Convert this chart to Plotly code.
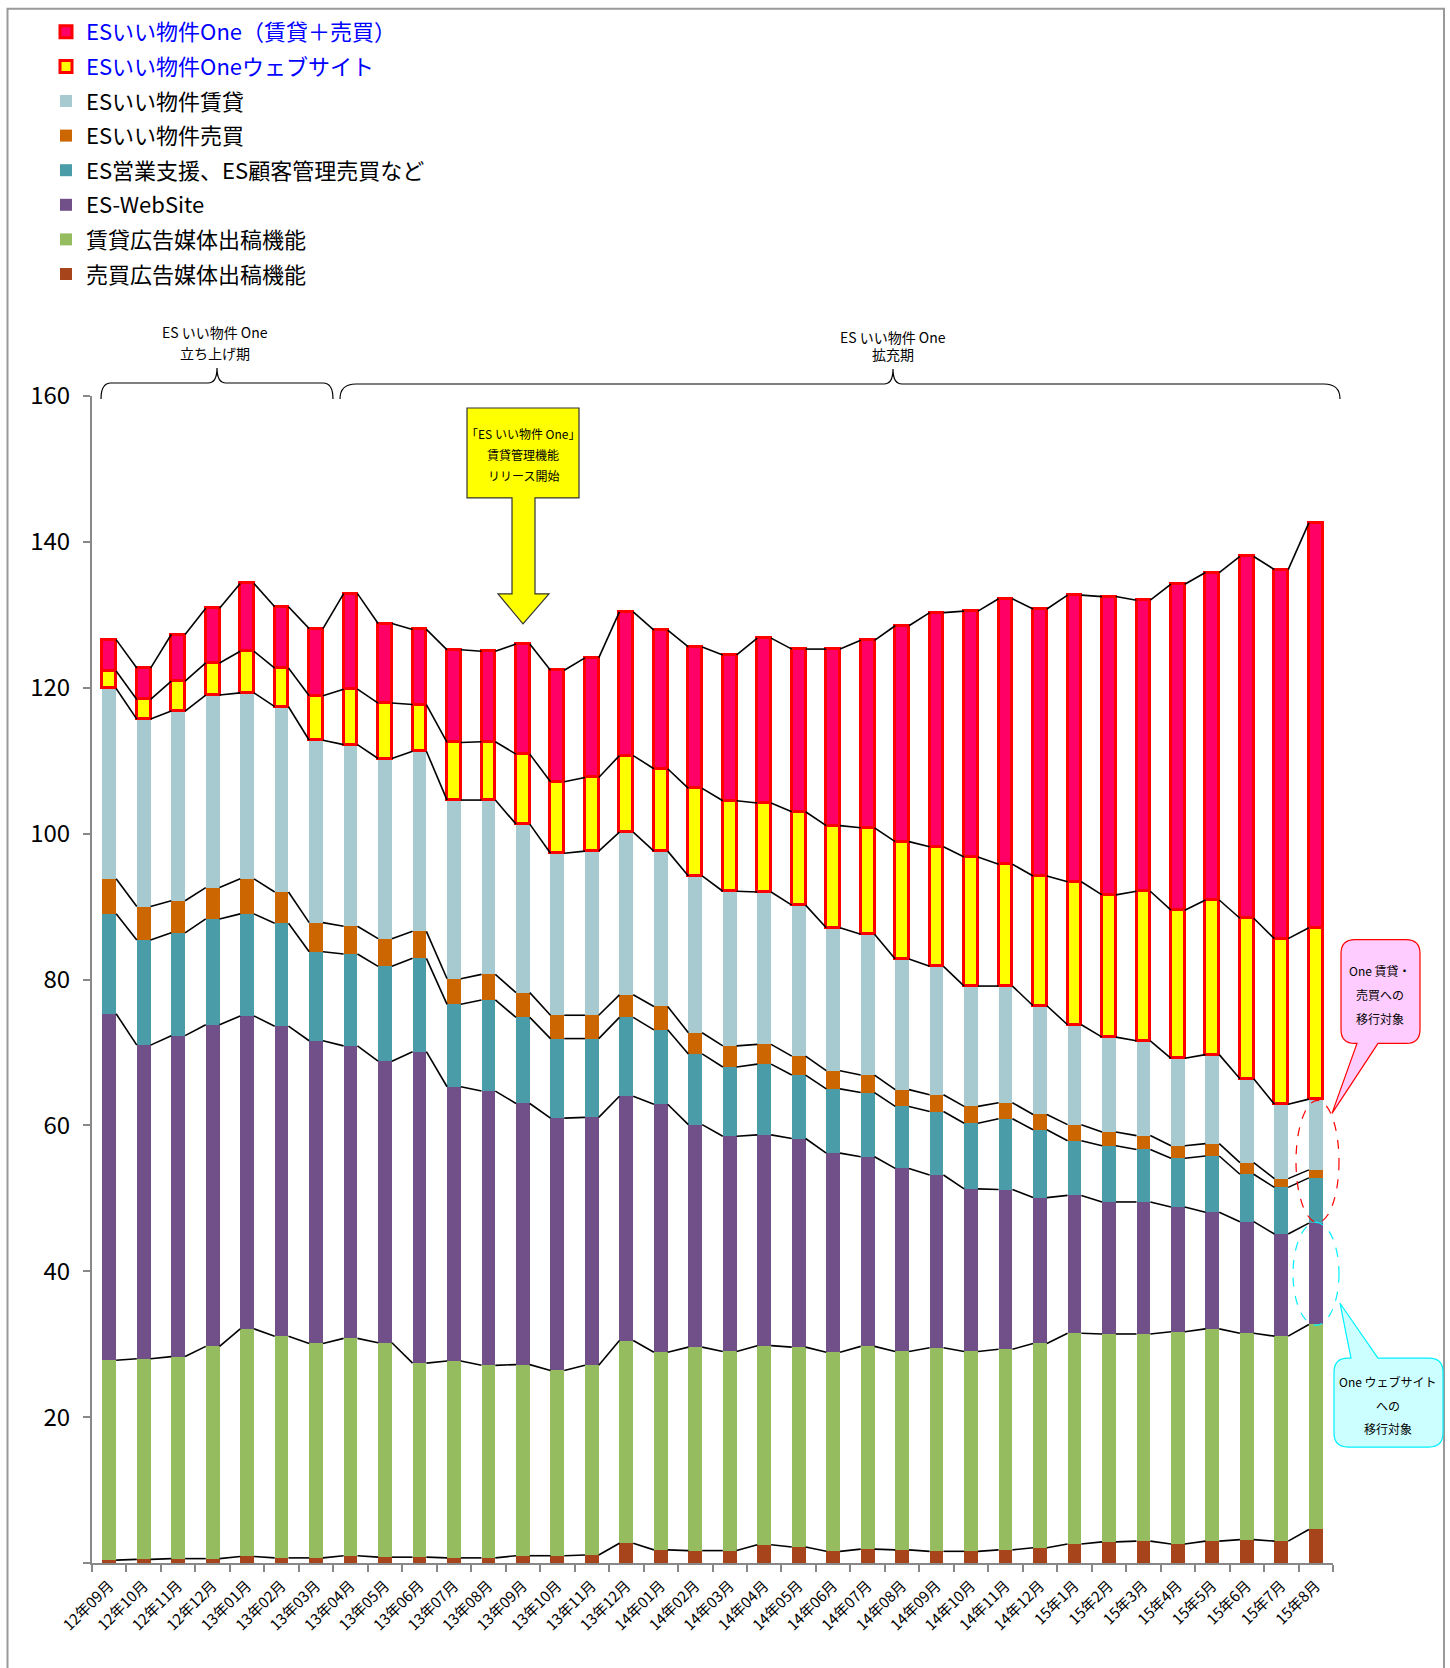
import plotly.graph_objects as go

months = ["12年09月","12年10月","12年11月","12年12月","13年01月","13年02月","13年03月","13年04月",
          "13年05月","13年06月","13年07月","13年08月","13年09月","13年10月","13年11月","13年12月",
          "14年01月","14年02月","14年03月","14年04月","14年05月","14年06月","14年07月","14年08月",
          "14年09月","14年10月","14年11月","14年12月","15年1月","15年2月","15年3月","15年4月",
          "15年5月","15年6月","15年7月","15年8月"]

baibai_ad = [0.4,0.5,0.6,0.6,0.9,0.7,0.7,1.0,0.8,0.8,0.7,0.7,1.0,1.0,1.1,2.7,1.8,1.7,1.7,2.5,
             2.2,1.6,1.9,1.8,1.6,1.6,1.8,2.1,2.6,2.9,3.0,2.6,3.0,3.2,3.0,4.6]
chintai_ad = [27.4,27.5,27.7,29.1,31.2,30.4,29.4,29.8,29.4,26.6,27.0,26.4,26.2,25.4,26.0,27.8,
              27.1,27.9,27.3,27.3,27.4,27.3,27.8,27.2,27.9,27.4,27.5,28.0,28.9,28.5,28.4,29.1,
              29.1,28.3,28.1,28.1]
es_website = [47.5,43.0,44.0,44.1,42.9,42.5,41.5,40.1,38.6,42.7,37.6,37.6,35.8,34.6,34.0,33.5,
              34.0,30.5,29.5,28.9,28.6,27.3,26.0,25.1,23.7,22.3,21.9,20.0,18.9,18.1,18.1,17.1,
              16.0,15.3,14.0,13.9]
es_eigyo = [13.7,14.4,14.1,14.5,14.0,14.1,12.2,12.6,13.0,12.8,11.3,12.5,11.8,10.9,10.8,10.8,
            10.2,9.7,9.5,9.7,8.7,8.8,8.8,8.5,8.7,9.0,9.7,9.3,7.5,7.7,7.2,6.7,7.7,6.5,6.4,6.2]
es_baibai = [4.8,4.6,4.4,4.3,4.8,4.3,4.0,3.8,3.8,3.7,3.5,3.5,3.4,3.2,3.2,3.1,3.2,2.9,2.9,2.7,
             2.6,2.5,2.4,2.3,2.3,2.3,2.2,2.1,2.2,1.9,1.9,1.7,1.7,1.6,1.2,1.1]
es_chintai = [26.1,25.7,26.0,26.4,25.5,25.4,25.0,24.9,24.7,24.7,24.5,23.9,23.1,22.2,22.5,22.3,
              21.3,21.5,21.2,20.9,20.7,19.6,19.3,17.9,17.6,16.5,16.0,14.9,13.7,13.0,13.0,12.0,
              12.2,11.5,10.2,9.7]
one_web = [2.4,2.7,4.1,4.4,5.7,5.3,6.1,7.6,7.6,6.4,7.9,8.0,9.6,9.8,10.1,10.5,11.3,12.0,12.4,12.2,
           12.8,14.0,14.6,16.1,16.4,17.7,16.7,17.8,19.6,19.5,20.5,20.3,21.2,22.0,22.7,23.5]
one_main = [4.3,4.3,6.4,7.5,9.3,8.4,9.2,13.1,10.9,10.3,12.7,12.4,15.1,15.3,16.4,19.7,19.0,19.4,
            20.0,22.6,22.3,24.2,25.7,29.6,32.1,33.7,36.4,36.6,39.3,40.9,39.9,44.7,44.9,49.6,
            50.6,55.5]

y_ticks = [0, 20, 40, 60, 80, 100, 120, 140, 160]
y_ticktext = ["", "20", "40", "60", "80", "100", "120", "140", "160"]

FONT = "Noto Sans CJK JP, Noto Sans, sans-serif"
BLUE = "#0000FF"

# (legend name, values, fill, border colour, border width) -- stacked bottom to top
series = [
    ("売買広告媒体出稿機能", baibai_ad, "#A8441C", "#A8441C", 0),
    ("賃貸広告媒体出稿機能", chintai_ad, "#95BD5F", "#95BD5F", 0),
    ("ES-WebSite", es_website, "#71508A", "#71508A", 0),
    ("ES営業支援、ES顧客管理売買など", es_eigyo, "#4A9CA8", "#4A9CA8", 0),
    ("ESいい物件売買", es_baibai, "#CC6600", "#CC6600", 0),
    ("ESいい物件賃貸", es_chintai, "#A7CAD0", "#A7CAD0", 0),
    (f"<span style='color:{BLUE}'>ESいい物件Oneウェブサイト</span>", one_web, "#FFFF00", "#FF0000", 3),
    (f"<span style='color:{BLUE}'>ESいい物件One（賃貸＋売買）</span>", one_main, "#FF0066", "#FF0000", 3),
]

W, H = 1450, 1668
ML, MR, MT, MB = 92, 117, 395, 105
PW, PH = W - ML - MR, H - MT - MB
BAR_W = 0.40
n = len(months)
xs = list(range(n))


def fx(p):
    return (p - ML) / PW


def fy(p):
    return (H - MB - p) / PH


def pth(cmds):
    out = []
    for c in cmds:
        if isinstance(c, str):
            out.append(c)
        else:
            out.append(f"{fx(c[0]):.5f},{fy(c[1]):.5f}")
    return " ".join(out)


fig = go.Figure()

cum = [0.0] * n
levels = []
ns = len(series)
for i, (name, vals, fill, lc, lw) in enumerate(series):
    fig.add_trace(go.Bar(
        x=xs, y=vals, width=BAR_W, name=name, legendgroup=f"g{i}", legendrank=ns - i,
        marker=dict(color=fill, line=dict(color=lc, width=lw)),
        hoverinfo="skip",
    ))
    cum = [c + v for c, v in zip(cum, vals)]
    levels.append(list(cum))

# series lines connecting stacked tops
for lev in levels:
    lx, ly = [], []
    for i in range(n - 1):
        lx += [i + BAR_W / 2, i + 1 - BAR_W / 2, None]
        ly += [lev[i], lev[i + 1], None]
    fig.add_trace(go.Scatter(x=lx, y=ly, mode="lines", showlegend=False,
                             line=dict(color="black", width=1.6), hoverinfo="skip"))

shapes = []
# outer frame
shapes.append(dict(type="rect", xref="paper", yref="paper", x0=fx(7.5), x1=fx(1444), y0=fy(1690), y1=fy(7.5),
                   line=dict(color="#999999", width=2), fillcolor="rgba(0,0,0,0)", layer="below"))


def brace(x0, x1, xc, yh, ytip, yend, r):
    return pth(["M", (x0, yend), "Q", (x0, yh), (x0 + r, yh), "L", (xc - 9, yh), "Q", (xc, yh), (xc, ytip),
                "Q", (xc, yh), (xc + 9, yh), "L", (x1 - r, yh), "Q", (x1, yh), (x1, yend)])


shapes.append(dict(type="path", xref="paper", yref="paper", path=brace(101, 333, 217, 382, 367, 398, 10),
                   line=dict(color="black", width=1.2)))
shapes.append(dict(type="path", xref="paper", yref="paper", path=brace(340, 1340, 893, 383, 368, 398, 16),
                   line=dict(color="black", width=1.2)))

# yellow box with down arrow
arrow = pth(["M", (467, 407), "L", (579, 407), "L", (579, 497), "L", (535, 497), "L", (535, 593),
             "L", (549, 593), "L", (523, 623), "L", (498, 593), "L", (512, 593), "L", (512, 497),
             "L", (467, 497), "Z"])
shapes.append(dict(type="path", xref="paper", yref="paper", path=arrow, fillcolor="#FFFF00",
                   line=dict(color="#333333", width=1.2)))

# pink callout (tail on bottom)
x0, y0, x1, y1, r = 1341, 939, 1420, 1043, 14
pink = pth(["M", (x0 + r, y0), "L", (x1 - r, y0), "Q", (x1, y0), (x1, y0 + r), "L", (x1, y1 - r),
            "Q", (x1, y1), (x1 - r, y1), "L", (1378, y1), "L", (1332, 1113), "L", (1357, y1),
            "L", (x0 + r, y1), "Q", (x0, y1), (x0, y1 - r), "L", (x0, y0 + r), "Q", (x0, y0), (x0 + r, y0), "Z"])
shapes.append(dict(type="path", xref="paper", yref="paper", path=pink, fillcolor="#FFCCFF",
                   line=dict(color="#FF0000", width=1.2)))

# cyan callout (tail on top)
x0, y0, x1, y1, r = 1334, 1358, 1443, 1447, 14
cyan = pth(["M", (x0 + r, y0), "L", (1351, y0), "L", (1340, 1303), "L", (1378, y0), "L", (x1 - r, y0),
            "Q", (x1, y0), (x1, y0 + r), "L", (x1, y1 - r), "Q", (x1, y1), (x1 - r, y1), "L", (x0 + r, y1),
            "Q", (x0, y1), (x0, y1 - r), "L", (x0, y0 + r), "Q", (x0, y0), (x0 + r, y0), "Z"])
shapes.append(dict(type="path", xref="paper", yref="paper", path=cyan, fillcolor="#CCFFFF",
                   line=dict(color="#00F0FF", width=1.2)))

# dashed ellipses
shapes.append(dict(type="circle", xref="paper", yref="paper", x0=fx(1296), x1=fx(1339), y0=fy(1222), y1=fy(1100),
                   line=dict(color="#FF0000", width=1.2, dash="dash")))
shapes.append(dict(type="circle", xref="paper", yref="paper", x0=fx(1293), x1=fx(1339), y0=fy(1325), y1=fy(1222),
                   line=dict(color="#00F0FF", width=1.2, dash="dash")))

annotations = []


def txt(s, x, y, size):
    annotations.append(dict(text=s, x=fx(x), y=fy(y), xref="paper", yref="paper", showarrow=False,
                            xanchor="center", yanchor="middle", font=dict(family=FONT, size=size, color="black")))


txt("ES いい物件 One", 215, 331, 14)
txt("立ち上げ期", 215, 352, 14)
txt("ES いい物件 One", 893, 336, 14)
txt("拡充期", 893, 353, 14)
txt("「ES いい物件 One」", 523, 433, 12)
txt("賃貸管理機能", 523, 454, 12)
txt("リリース開始", 523, 475, 12)
txt("One 賃貸・", 1380, 970, 12)
txt("売買への", 1380, 994, 12)
txt("移行対象", 1380, 1018, 12)
txt("One ウェブサイト", 1388, 1381, 12)
txt("への", 1388, 1405, 12)
txt("移行対象", 1388, 1428, 12)

fig.update_layout(
    width=W, height=H,
    margin=dict(l=ML, r=MR, t=MT, b=MB, pad=0),
    barmode="stack",
    bargap=0,
    plot_bgcolor="white", paper_bgcolor="white",
    font=dict(family=FONT, color="black"),
    showlegend=True,
    legend=dict(x=fx(46), y=fy(11), xanchor="left", yanchor="top", traceorder="grouped",
                tracegroupgap=3, font=dict(family=FONT, size=22, color="black"),
                bgcolor="rgba(0,0,0,0)", itemclick=False, itemdoubleclick=False),
    shapes=shapes,
    annotations=annotations,
    hovermode=False,
)

fig.update_xaxes(
    range=[-0.5, n - 0.5], tickmode="array", tickvals=xs, ticktext=months, tickangle=-45,
    ticks="", showline=True, linecolor="#888888", linewidth=2, showgrid=False, zeroline=False,
    tickfont=dict(family=FONT, size=15, color="black"), ticklabelstandoff=6,
    minor=dict(tickmode="array", tickvals=[i - 0.5 for i in range(n + 1)], ticks="outside",
               ticklen=7, tickwidth=1.5, tickcolor="#888888"),
)
fig.update_yaxes(
    range=[0, 160], tickmode="array", tickvals=y_ticks, ticktext=y_ticktext,
    ticks="outside", ticklen=7, tickwidth=1.5, tickcolor="#888888",
    showline=True, linecolor="#888888", linewidth=2, showgrid=False, zeroline=False,
    tickfont=dict(family=FONT, size=24, color="black"), ticklabelstandoff=8,
)

fig.write_html("out.html", config={"displayModeBar": False},
               post_script="document.body.style.margin='0px';")
